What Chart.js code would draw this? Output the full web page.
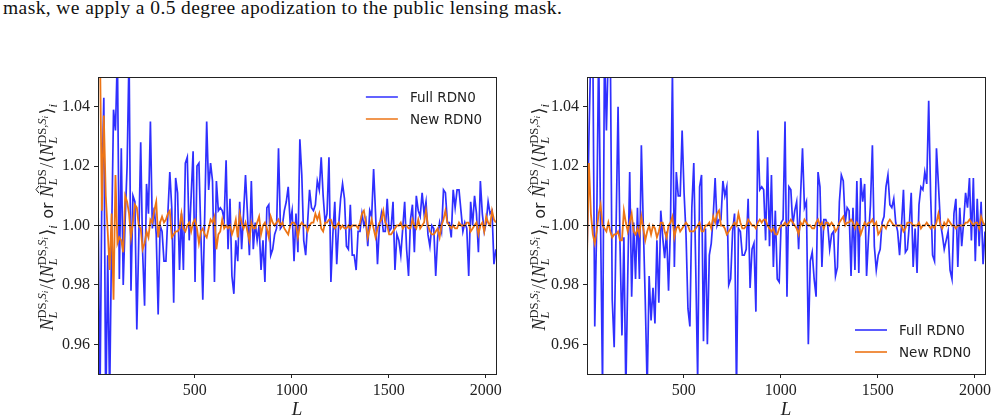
<!DOCTYPE html>
<html>
<head>
<meta charset="utf-8">
<script src="https://cdn.jsdelivr.net/npm/chart.js@4.4.0/dist/chart.umd.min.js"></script>
<style>
body{margin:0;background:#fff;width:997px;height:420px;overflow:hidden;position:relative}
#caption{position:absolute;left:3px;top:-3px;font-family:"Liberation Serif",serif;font-size:19.5px;color:#111;white-space:nowrap}
canvas{position:absolute;top:60px}
#left{left:0}
#right{left:490px}
</style>
</head>
<body>
<div id="caption">mask, we apply a 0.5 degree apodization to the public lensing mask.</div>
<canvas id="left" width="505" height="360"></canvas>
<canvas id="right" width="507" height="360"></canvas>
<script>
// bins in L (centres), every 10 from L = 2
const L_START = 2, L_STEP = 10, L_COUNT = 206;
const X_MIN = 2, X_MAX = 2052;
const X_TICKS = [500, 1000, 1500, 2000];
const Y_TICKS = [0.96, 0.98, 1.00, 1.02, 1.04];

// left panel
const leftFull = [
  1.009, 0.940, 1.012, 1.043, 0.935, 0.990, 0.942, 0.995, 1.039, 1.032,
  1.058, 0.982, 1.026, 0.980, 1.002, 1.020, 1.058, 0.978, 1.010, 1.008,
  0.965, 0.995, 1.028, 0.991, 0.973, 1.014, 1.004, 1.035, 0.999, 1.006,
  0.997, 0.970, 1.000, 0.998, 0.988, 0.988, 1.004, 1.018, 1.006, 0.974,
  1.016, 1.011, 0.985, 1.004, 0.985, 1.021, 1.023, 0.995, 1.010, 1.025,
  0.981, 1.020, 1.021, 0.997, 0.975, 1.004, 1.035, 1.012, 1.021, 1.015,
  0.981, 1.015, 1.005, 1.006, 1.005, 1.002, 1.022, 0.992, 1.009,
  0.983, 0.977, 0.995, 0.988, 1.008, 0.992, 1.004, 1.017, 1.004, 0.990,
  1.015, 0.992, 1.001, 0.995, 1.000, 0.985, 0.995, 0.981, 1.006, 1.007,
  0.990, 0.992, 0.997, 0.999, 1.026, 0.999, 1.000, 1.005, 1.008, 1.013,
  1.001, 1.005, 0.988, 1.004, 0.991, 1.029, 1.017, 0.995, 0.990, 1.001,
  1.012, 1.006, 1.005, 1.007, 1.015, 1.012, 1.023, 1.010, 1.001, 1.004,
  1.023, 0.981, 0.997, 1.008, 0.987, 1.000, 1.009, 1.014, 1.009, 0.993,
  0.992, 1.007, 0.990, 0.990, 0.985, 0.998, 0.998, 1.004,
  1.000, 1.002, 0.993, 1.005, 1.003, 1.019, 1.004, 0.987, 1.000, 1.004,
  0.998, 0.998, 1.009, 0.998, 0.999, 1.008, 0.985, 0.997, 0.995, 0.990,
  0.999, 1.008, 0.992, 0.983, 1.002, 1.007, 0.991, 1.010, 1.005, 1.003,
  1.011, 1.004, 1.008, 0.997, 0.993, 1.000, 0.999, 0.983, 0.996, 1.001,
  0.998, 1.012, 1.011, 1.001, 1.001, 0.996, 1.012, 1.006, 1.012, 1.012,
  1.005, 0.998, 1.001, 0.999, 0.983, 1.008, 1.000, 1.010, 1.004, 0.991,
  1.015, 1.004, 0.998, 1.001, 1.008, 1.004, 1.005, 0.987, 0.992
];
const leftNew = [
  1.065, 1.060, 1.005, 1.037, 1.010, 0.998, 0.985, 1.004, 0.975, 1.017,
  0.994, 0.996, 0.995, 0.991, 1.010, 1.008, 1.004, 0.996, 1.001, 1.007,
  1.006, 1.000, 0.999, 0.992, 0.994, 0.998, 0.996, 1.002, 1.001, 1.005,
  1.008, 0.996, 1.001, 1.003, 1.001, 1.002, 1.004, 1.005, 0.996, 0.997,
  0.998, 0.998, 0.999, 1.004, 0.999, 0.998, 1.000, 1.001, 0.998, 1.001,
  1.002, 0.999, 0.994, 0.998, 0.999, 0.997, 0.996, 0.999, 1.002, 1.001,
  1.003, 0.992, 0.997, 0.998, 1.002, 0.999, 1.000, 0.999, 1.000,
  0.997, 0.999, 1.002, 0.996, 1.004, 1.001, 0.999, 1.001, 0.998, 0.995,
  1.001, 0.999, 0.999, 1.001, 1.003, 0.997, 1.000, 1.001, 0.999, 0.996,
  1.003, 1.001, 1.000, 1.001, 1.002, 1.000, 1.001, 0.999, 0.998, 0.997,
  1.000, 1.001, 1.001, 1.000, 0.996, 1.000, 1.001, 1.000, 1.000, 0.998,
  1.000, 1.001, 1.001, 1.004, 1.002, 1.004, 0.999, 0.998, 1.001, 1.001,
  1.002, 1.002, 1.000, 0.999, 1.000, 1.001, 0.999, 1.000, 0.999, 0.999,
  1.000, 0.999, 1.000, 1.000, 1.000, 0.999, 1.001, 1.004,
  1.005, 1.001, 0.996, 0.999, 1.002, 0.999, 0.996, 0.999, 1.001, 1.002,
  1.005, 1.001, 1.000, 0.997, 0.997, 0.998, 0.999, 1.000, 1.000, 1.001,
  0.999, 1.000, 1.000, 0.999, 0.999, 1.002, 1.000, 0.999, 1.002, 0.999,
  1.000, 1.001, 1.005, 1.000, 0.998, 0.997, 0.997, 0.998, 0.999, 0.996,
  1.000, 1.002, 1.005, 1.001, 1.000, 0.999, 1.000, 0.999, 0.999, 1.001,
  1.000, 1.000, 1.000, 1.001, 1.001, 0.998, 0.999, 1.000, 1.001, 0.997,
  1.000, 1.001, 0.998, 1.003, 1.001, 1.000, 1.005, 1.002, 1.001
];

// right panel
const rightFull = [
  0.990, 1.030, 1.060, 1.060, 0.966, 1.000, 1.060, 1.000, 0.945, 1.060,
  1.032, 1.060, 1.060, 0.975, 0.959, 1.000, 1.040, 0.994, 0.963, 0.996,
  0.944, 0.983, 1.018, 0.976, 1.001, 0.982, 1.006, 0.982, 1.027, 1.000,
  0.975, 0.945, 0.983, 0.968, 0.979, 0.967, 0.995, 0.974, 1.005, 0.996,
  0.989, 0.998, 0.978, 1.000, 1.052, 0.986, 1.018, 1.010, 1.010, 1.032,
  1.011, 0.997, 0.972, 0.966, 1.006, 1.021, 0.986, 0.948, 1.013, 1.017,
  0.961, 0.999, 0.960, 0.990, 0.994, 1.003, 1.016, 1.000, 1.002,
  1.002, 1.015, 1.010, 1.013, 0.980, 0.982, 0.998, 1.004, 0.944, 0.999,
  0.998, 0.990, 0.990, 0.992, 1.009, 0.979, 0.992, 0.994, 0.971, 1.032,
  1.012, 1.013, 1.012, 0.995, 1.023, 0.993, 1.017, 0.986, 1.005, 0.982,
  0.981, 1.001, 1.002, 1.035, 0.976, 1.013, 1.012, 1.000, 1.005, 1.008,
  0.992, 1.010, 1.026, 1.006, 1.008, 0.960, 0.988, 0.991, 0.982, 0.976,
  1.018, 1.013, 0.986, 1.002, 1.002, 1.000, 0.992, 0.997, 0.998, 0.983,
  0.986, 1.008, 1.017, 1.015, 1.001, 1.006, 1.005, 0.983, 1.006,
  0.985, 1.015, 0.984, 1.016, 1.008, 1.014, 0.983, 0.996, 1.007, 1.027,
  0.993, 0.985, 0.990, 0.992, 1.001, 1.003, 1.013, 1.017, 1.007, 1.006,
  1.009, 1.001, 0.998, 0.990, 1.000, 1.012, 0.991, 0.992, 1.000, 1.011,
  0.986, 0.999, 0.984, 1.007, 1.013, 1.012, 1.018, 1.014, 1.042, 1.010,
  0.990, 0.988, 1.026, 1.014, 1.001, 0.997, 0.992, 0.995, 0.998, 0.985,
  0.982, 1.004, 1.009, 0.986, 1.006, 0.993, 1.001, 1.011, 1.006, 1.016,
  0.995, 1.016, 0.988, 1.009, 0.993, 1.008, 0.987, 0.998
];
const rightNew = [
  0.989, 1.021, 1.004, 0.997, 0.994, 0.998, 1.004, 1.007, 1.000, 0.999,
  0.998, 1.001, 0.998, 0.996, 0.997, 0.997, 0.998, 0.995, 0.995, 1.005,
  1.001, 0.998, 1.001, 1.004, 0.998, 0.997, 0.999, 0.997, 1.003, 0.999,
  0.995, 0.998, 1.000, 0.997, 1.000, 0.999, 0.996, 0.998, 1.001, 1.001,
  0.998, 0.996, 1.000, 1.001, 1.003, 0.996, 0.999, 1.000, 0.998, 0.999,
  1.000, 1.001, 1.000, 0.998, 0.998, 0.998, 0.999, 1.000, 1.001, 0.998,
  0.998, 1.000, 1.000, 1.001, 0.999, 1.003, 1.001, 1.004, 1.005,
  1.000, 1.000, 0.999, 0.997, 0.998, 0.999, 1.000, 1.001, 1.000, 1.004,
  1.001, 0.999, 0.999, 1.000, 1.002, 1.001, 1.000, 1.000, 0.999, 1.001,
  1.002, 1.001, 1.002, 1.002, 1.000, 0.999, 0.998, 0.999, 0.997, 0.997,
  0.999, 1.000, 1.000, 1.001, 1.000, 1.001, 1.002, 1.001, 1.000, 0.999,
  0.997, 1.001, 1.000, 1.002, 1.001, 1.000, 1.000, 0.999, 0.999, 1.001,
  1.002, 1.000, 1.001, 0.999, 1.001, 1.001, 1.000, 1.001, 1.000, 0.998,
  0.999, 1.001, 1.002, 1.003, 1.000, 1.001, 1.001, 1.002, 1.001,
  0.999, 1.001, 1.000, 0.997, 0.999, 1.001, 1.000, 1.001, 1.001, 1.002,
  1.000, 1.001, 0.997, 0.998, 1.000, 1.000, 0.999, 1.001, 1.002, 1.001,
  1.000, 1.000, 1.000, 1.000, 1.000, 0.998, 0.999, 1.001, 1.001, 1.001,
  1.000, 1.000, 1.000, 1.001, 0.999, 1.000, 1.000, 1.001, 1.000, 0.999,
  1.000, 0.999, 1.001, 1.004, 1.000, 0.999, 1.001, 1.000, 1.002, 1.001,
  1.000, 1.000, 0.999, 1.000, 1.000, 1.000, 1.000, 1.001, 1.001, 1.002,
  1.001, 1.000, 1.001, 1.001, 0.999, 1.003, 1.001, 1.000
];

const BLUE = 'rgba(10,10,255,0.85)';
const ORANGE = '#ec7416';
const INK = '#222';
const SERIF = '"Liberation Serif", "DejaVu Serif", serif';

// stretch the caption to the width it has in the page
const cap = document.getElementById('caption');
const capText = cap.textContent;
cap.style.letterSpacing = ((559 - cap.getBoundingClientRect().width) / (capText.length - 1)).toFixed(2) + 'px';

const L_BINS = [];
for (let i = 0; i < L_COUNT; i++) L_BINS.push(L_START + i * L_STEP);

function toPoints(vals) {
  return vals.map((v, i) => ({ x: L_BINS[i], y: v }));
}

// y label pieces: N_L^{DS,S_i}/<N_L^{DS,S_i}>_i or N^_L^{DS}/<N_L^{DS,S_i}>_i
const MI = 'italic 18px ' + SERIF, RM = '18px ' + SERIF;
const SI = 'italic 12.5px ' + SERIF, SR = '12.5px ' + SERIF, SSI = 'italic 9px ' + SERIF;
const BR = '18px "DejaVu Serif"';
const SANS = '16px "DejaVu Sans"';
function nScript(withSi) {
  return { sub: [['L', SI, 0]], sup: withSi ? [['DS,', SR, 0], ['S', SI, 0], ['i', SSI, 2]] : [['DS', SR, 0]] };
}
const Y_LABEL = [
  { t: 'N', font: MI }, nScript(true), { t: '/', font: RM }, { t: '⟨', font: BR },
  { t: 'N', font: MI }, nScript(true), { t: '⟩', font: BR }, { sub: [['i', SI, 0]], sup: [] },
  { t: ' or ', font: SANS },
  { t: 'N', font: MI, hat: true }, nScript(false), { t: '/', font: RM }, { t: '⟨', font: BR },
  { t: 'N', font: MI }, nScript(true), { t: '⟩', font: BR }, { sub: [['i', SI, 0]], sup: [] }
];

function runsWidth(ctx, runs) {
  let w = 0;
  for (const [t, font] of runs) { ctx.font = font; w += ctx.measureText(t).width; }
  return w;
}
function drawRuns(ctx, runs, x, y) {
  for (const [t, font, dy] of runs) {
    ctx.font = font; ctx.fillText(t, x, y + dy); x += ctx.measureText(t).width;
  }
}
function itemWidth(ctx, it) {
  if (it.t !== undefined) { ctx.font = it.font; return ctx.measureText(it.t).width; }
  return Math.max(runsWidth(ctx, it.sub), runsWidth(ctx, it.sup)) + 1.5;
}
function drawYLabel(ctx, cx, cy) {
  ctx.save();
  ctx.translate(cx, cy);
  ctx.rotate(-Math.PI / 2);
  ctx.textAlign = 'left';
  ctx.textBaseline = 'alphabetic';
  ctx.fillStyle = INK;
  ctx.strokeStyle = INK;
  const total = Y_LABEL.reduce((s, it) => s + itemWidth(ctx, it), 0);
  let x = -total / 2;
  const base = 5;
  for (const it of Y_LABEL) {
    const w = itemWidth(ctx, it);
    if (it.t !== undefined) {
      ctx.font = it.font;
      ctx.fillText(it.t, x, base);
      if (it.hat) {
        ctx.lineWidth = 1;
        ctx.beginPath();
        ctx.moveTo(x + w * 0.35, base - 14);
        ctx.lineTo(x + w * 0.65, base - 17);
        ctx.lineTo(x + w * 0.95, base - 14);
        ctx.stroke();
      }
    } else {
      drawRuns(ctx, it.sub, x, base + 4);
      drawRuns(ctx, it.sup, x, base - 7);
    }
    x += w;
  }
  ctx.restore();
}

const decor = {
  id: 'decor',
  afterDatasetsDraw(chart, args, opts) {
    const { ctx, chartArea: a } = chart;
    ctx.save();
    // frame
    ctx.strokeStyle = INK;
    ctx.lineWidth = 1;
    ctx.strokeRect(Math.round(a.left) + 0.5, Math.round(a.top) + 0.5,
      Math.round(a.right - a.left), Math.round(a.bottom - a.top));
    // legend
    const rows = chart.data.datasets.filter(d => d.inLegend).sort((p, q) => p.legendRow - q.legendRow);
    const y0 = opts.legendTop ? a.top + 20 : a.bottom - 44;
    rows.forEach((d, k) => {
      const y = y0 + k * 22;
      ctx.strokeStyle = d.borderColor;
      ctx.lineWidth = 1.6;
      ctx.beginPath();
      ctx.moveTo(a.right - 130, y);
      ctx.lineTo(a.right - 98, y);
      ctx.stroke();
      ctx.fillStyle = INK;
      ctx.font = '13.5px "DejaVu Sans"';
      ctx.textBaseline = 'middle';
      ctx.textAlign = 'left';
      ctx.fillText(d.label, a.right - 86, y + 1);
    });
    // x title
    ctx.font = 'italic 19px ' + SERIF;
    ctx.textAlign = 'center';
    ctx.textBaseline = 'alphabetic';
    ctx.fillStyle = INK;
    ctx.fillText('L', (a.left + a.right) / 2, a.bottom + 41);
    ctx.restore();
    drawYLabel(ctx, a.left - opts.yTitleGap, (a.top + a.bottom) / 2 - 9);
  }
};

function makeChart(id, full, fresh, yWidth, rightPad, legendTop, yTitleGap) {
  const axisGrid = { drawOnChartArea: false, drawTicks: true, tickLength: 4, color: INK };
  return new Chart(document.getElementById(id), {
    type: 'line',
    data: {
      datasets: [
        { label: 'ref', data: [{ x: X_MIN, y: 1 }, { x: X_MAX, y: 1 }], borderColor: '#111',
          borderWidth: 1, borderDash: [3, 2], pointRadius: 0, order: 0 },
        { label: 'New RDN0', data: toPoints(fresh), borderColor: ORANGE, borderWidth: 1.8,
          pointRadius: 0, order: 1, inLegend: true, legendRow: 1 },
        { label: 'Full RDN0', data: toPoints(full), borderColor: BLUE, borderWidth: 1.7,
          pointRadius: 0, order: 2, inLegend: true, legendRow: 0 }
      ]
    },
    options: {
      responsive: false,
      animation: false,
      devicePixelRatio: 1,
      layout: { padding: { top: 17, right: rightPad, left: 0, bottom: 0 } },
      elements: { line: { tension: 0 } },
      plugins: {
        legend: { display: false },
        tooltip: { enabled: false },
        decor: { legendTop: legendTop, yTitleGap: yTitleGap }
      },
      scales: {
        x: {
          type: 'linear', min: X_MIN, max: X_MAX,
          afterBuildTicks: s => { s.ticks = X_TICKS.map(v => ({ value: v })); },
          afterFit: s => { s.height = 46; },
          grid: axisGrid,
          border: { display: true, color: INK, width: 1 },
          ticks: { font: { family: SERIF, size: 16 }, color: INK, padding: 3, maxRotation: 0,
            callback: v => String(v) }
        },
        y: {
          type: 'linear', min: 0.95, max: 1.05,
          afterBuildTicks: s => { s.ticks = Y_TICKS.map(v => ({ value: v })); },
          afterFit: s => { s.width = yWidth; },
          grid: axisGrid,
          border: { display: true, color: INK, width: 1 },
          ticks: { font: { family: SERIF, size: 16 }, color: INK, padding: 4,
            callback: v => v.toFixed(2) }
        }
      }
    },
    plugins: [decor]
  });
}

makeChart('left', leftFull, leftNew, 98, 8, true, 50);
makeChart('right', rightFull, rightNew, 97, 12, false, 47);
</script>
</body>
</html>
